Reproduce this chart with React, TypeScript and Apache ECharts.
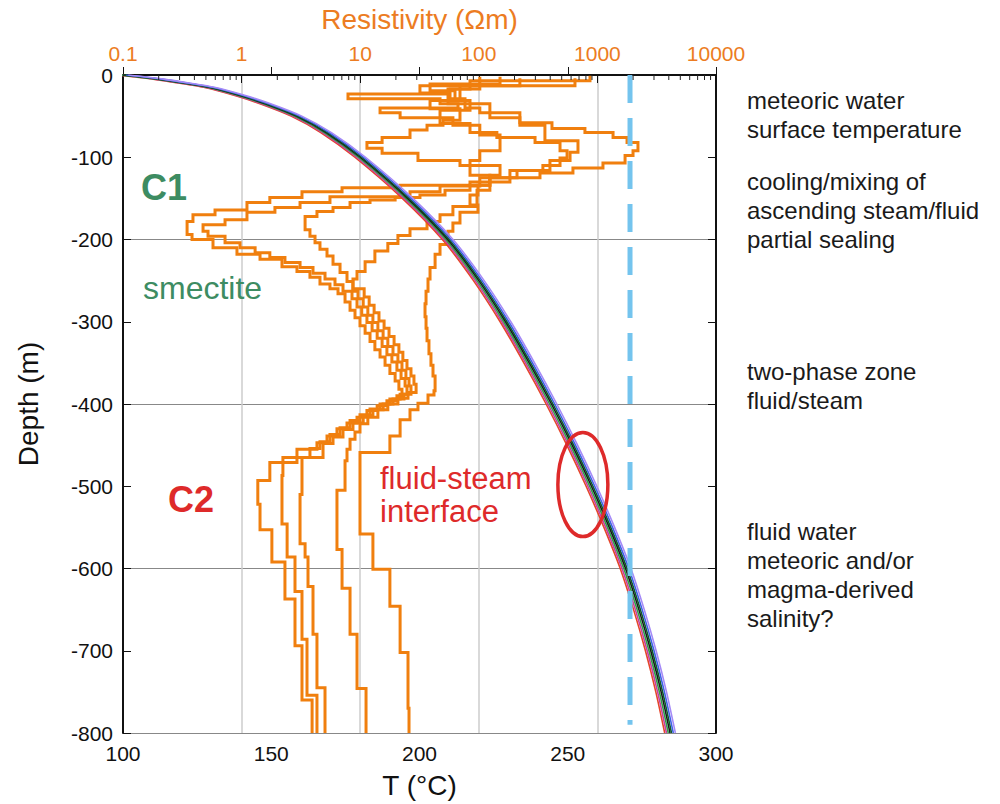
import React, { useEffect, useRef } from "react";
import * as echarts from "echarts";

const FONT = "'Liberation Sans', Arial, Helvetica, sans-serif";
const ORANGE = "#f07f0e";
const ORANGE_TEXT = "#ec7c22";
const GREEN = "#3d8c62";
const RED = "#de2a2a";

// Axes
const tempMin = 100;
const tempMax = 300;
const depthMin = -800;
const depthMax = 0;
const resMin = 0.1;
const resMax = 10000;
const resistivityMinorTicks = [
  0.2, 0.3, 0.4, 0.5, 0.6, 0.7, 0.8, 0.9,
  2, 3, 4, 5, 6, 7, 8, 9,
  20, 30, 40, 50, 60, 70, 80, 90,
  200, 300, 400, 500, 600, 700, 800, 900,
  2000, 3000, 4000, 5000, 6000, 7000, 8000, 9000,
];

// Boiling-point-with-depth temperature bundle (depth m, T °C)
const bpdDepth = [0, 5, 10, 15, 25, 35, 50, 70, 100, 150, 200, 250, 300, 350, 400, 450, 500, 550, 600, 650, 700, 750, 800];
const bpdTemp = [100, 112, 121, 129, 139.5, 148, 158.5, 168.5, 180, 196, 209.5, 220, 229, 237, 244.5, 251.5, 258, 264, 269.5, 274, 278, 281.5, 284.5];
const bundleOffsets = [-1.8, -1.2, -0.6, 0, 0.5, 1.1, 1.8];
const bundleColors = ["#e5452a", "#c63fa0", "#2e9e4a", "#1a1a1a", "#0f5a2a", "#3f62e6", "#a58af7"];

// Dashed reference line (°C)
const dashedRefT = 271;
const dashedRefBottom = -790;

// Ellipse "fluid-steam interface" centre (T, depth)
const ellipseCenter = [255.1, -498];

// Resistivity profiles: [resistivity Ωm, top depth of layer m]
const profile1 = [
  [866, 1], [84.3, 7], [57.2, 17], [76.5, 29], [102, 40], [222, 46], [414, 58], [785, 65], [1355, 70], [1778, 76],
  [2198, 82], [1997, 92], [1711, 98], [1114, 107], [622, 113], [328, 119], [183, 125], [84.3, 130], [21.7, 134], [7.03, 137],
  [3.23, 142], [1.73, 149], [1.11, 155], [0.597, 164], [0.389, 170], [0.347, 178], [0.382, 194], [0.574, 200], [0.914, 210], [1.43, 218],
  [2.19, 224], [2.93, 233], [3.77, 239], [4.58, 246], [5.56, 254], [6.5, 260], [7.45, 266], [8.21, 276], [9.04, 286], [9.96, 295],
  [11.0, 305], [12.1, 314], [13.3, 324], [14.7, 334], [16.2, 343], [17.8, 353], [19.7, 363], [21.2, 372], [22.5, 382], [20.4, 390],
  [16.8, 396], [13.9, 402], [11.4, 408], [9.4, 416], [7.74, 423], [6.37, 430], [5.25, 439], [4.32, 447], [2.93, 455], [1.73, 471],
  [1.37, 493], [1.43, 522], [1.8, 553], [2.32, 592], [2.82, 637], [3.23, 694], [3.93, 760],
];
const profile2 = [
  [647, 4], [31.9, 13], [55.0, 22], [124, 35], [222, 52], [361, 61], [686, 80], [588, 94], [398, 104], [183, 116],
  [102, 125], [47.1, 135], [26.3, 142], [5.56, 148], [3.11, 155], [1.91, 161], [1.11, 167], [0.725, 176], [0.473, 182], [0.521, 190],
  [0.725, 196], [0.97, 204], [1.3, 210], [1.73, 216], [2.32, 222], [3.11, 228], [4.0, 234], [5.05, 241], [6.13, 248], [7.16, 255],
  [8.53, 263], [9.4, 272], [10.3, 282], [11.4, 292], [12.6, 301], [13.9, 311], [15.3, 320], [16.8, 330], [18.5, 340], [20.4, 349],
  [22.1, 359], [23.9, 369], [24.8, 378], [21.7, 388], [17.8, 394], [14.7, 400], [12.1, 406], [9.96, 413], [8.21, 420], [6.76, 429],
  [5.56, 437], [4.58, 446], [3.77, 454], [2.23, 465], [2.19, 487], [2.42, 546], [2.82, 586], [3.23, 628], [3.56, 686], [4.32, 754],
];
const profile3 = [
  [151, 2], [38.8, 11], [63.0, 19], [84.3, 31], [47.1, 43], [84.3, 59], [142, 70], [298, 76], [484, 82], [555, 92],
  [484, 101], [347, 110], [210, 116], [124, 125], [84.3, 134], [51.9, 140], [31.9, 146], [19.7, 149], [12.1, 152], [8.21, 155],
  [5.9, 161], [4.32, 166], [3.43, 172], [3.77, 188], [4.16, 196], [4.58, 204], [5.25, 212], [5.9, 220], [6.76, 230], [7.74, 240],
  [8.69, 251], [9.58, 263], [10.6, 272], [11.6, 282], [12.8, 292], [14.1, 301], [15.6, 311], [17.1, 320], [18.9, 330], [20.8, 340],
  [22.5, 349], [24.3, 359], [25.8, 369], [26.8, 378], [23.4, 388], [18.9, 394], [15.6, 400], [12.8, 407], [10.6, 414], [8.69, 423],
  [7.16, 431], [5.9, 440], [4.86, 448], [3.23, 465], [3.11, 510], [3.43, 570], [3.63, 586], [4.0, 622], [4.32, 680], [5.05, 745],
];
const profile4 = [
  [102, 2], [55.0, 17], [7.89, 23], [47.1, 29], [66.8, 35], [14.7, 40], [21.7, 46], [60.5, 52], [102, 61], [151, 73],
  [102, 92], [84.3, 104], [124, 122], [96.6, 140], [60.5, 160], [47.1, 170], [36.6, 178], [26.3, 187], [20.8, 195], [17.1, 205],
  [13.3, 214], [11.0, 227], [9.4, 239], [8.69, 248], [10.8, 260], [11.9, 270], [13.1, 280], [14.4, 289], [15.9, 299], [17.5, 308],
  [19.3, 318], [21.2, 328], [22.9, 337], [24.8, 347], [26.8, 357], [28.4, 366], [29.6, 376], [25.3, 386], [20.8, 393], [17.1, 400],
  [14.1, 407], [11.6, 416], [9.96, 424], [9.04, 434], [8.21, 443], [7.74, 455], [7.45, 469], [6.37, 505], [7.03, 577], [8.21, 624],
  [9.4, 680], [11.2, 746],
];
const profile5 = [
  [222, 4], [69.4, 13], [38.8, 31], [69.4, 41], [49.9, 55], [36.6, 61], [26.3, 67], [15.3, 76], [11.4, 82], [15.3, 89],
  [30.7, 95], [69.4, 104], [151, 110], [124, 122], [98.4, 134], [84.3, 146], [98.4, 158], [69.4, 167], [60.5, 180], [55.0, 190],
  [47.1, 206], [42.8, 218], [38.8, 234], [37.3, 248], [35.9, 263], [35.2, 278], [35.9, 294], [36.6, 308], [38.0, 323], [39.5, 339],
  [41.1, 353], [42.8, 366], [41.9, 384], [37.3, 389], [30.7, 399], [26.3, 407], [21.7, 419], [17.8, 439], [9.96, 459], [12.8, 558],
  [17.8, 601], [21.7, 646], [25.3, 702], [25.8, 770],
];
const profiles = [profile1, profile2, profile3, profile4, profile5];

// Annotations
const rightNotes = [
  { lines: ["meteoric water", "surface temperature"], top: 86 },
  { lines: ["cooling/mixing of", "ascending steam/fluid", "partial sealing"], top: 167 },
  { lines: ["two-phase zone", "fluid/steam"], top: 357 },
  { lines: ["fluid water", "meteoric and/or", "magma-derived", "salinity?"], top: 517 },
];

function toStairs(layers: number[][]) {
  const pts: number[][] = [];
  layers.forEach(([r, top], i) => {
    const bottom = i + 1 < layers.length ? layers[i + 1][1] : 800;
    pts.push([r, -top], [r, -bottom]);
  });
  return pts;
}

function txt(text: string, x: number, y: number, size: number, color: string, extra: any = {}) {
  return {
    type: "text",
    x,
    y,
    z: 20,
    style: {
      text,
      fill: color,
      fontSize: size,
      fontFamily: FONT,
      align: "left",
      textAlign: "left",
      verticalAlign: "middle",
      textVerticalAlign: "middle",
      ...extra,
    },
  };
}

export default function App() {
  const ref = useRef<HTMLDivElement>(null);

  useEffect(() => {
    if (!ref.current) return;
    const chart = echarts.init(ref.current, undefined, { renderer: "svg" });

    const axisLabelBase = { fontFamily: FONT, fontSize: 21, color: "#111" };

    const series: any[] = [];
    profiles.forEach((p, i) => {
      series.push({
        type: "line",
        name: "profile" + (i + 1),
        xAxisIndex: 1,
        yAxisIndex: 0,
        data: toStairs(p),
        symbol: "none",
        silent: true,
        lineStyle: { color: ORANGE, width: 3, join: "miter" },
        z: 3,
      });
    });
    bundleOffsets.forEach((off, i) => {
      series.push({
        type: "line",
        xAxisIndex: 0,
        yAxisIndex: 0,
        data: bpdDepth.map((d, j) => [bpdTemp[j] + off, -d]),
        smooth: 0.25,
        symbol: "none",
        silent: true,
        lineStyle: { color: bundleColors[i], width: 1.6 },
        z: 5,
      });
    });
    series.push({
      type: "line",
      xAxisIndex: 0,
      yAxisIndex: 0,
      data: [[dashedRefT, 0], [dashedRefT, dashedRefBottom]],
      symbol: "none",
      silent: true,
      lineStyle: { color: "#74c4ee", width: 5, type: [28, 15] },
      z: 6,
    });
    series.push({
      type: "custom",
      xAxisIndex: 1,
      yAxisIndex: 0,
      clip: false,
      silent: true,
      z: 10,
      data: resistivityMinorTicks.map((v) => [v, 0]),
      renderItem: (params: any, api: any) => {
        const p = api.coord([api.value(0), api.value(1)]);
        return {
          type: "line",
          shape: { x1: p[0], y1: p[1], x2: p[0], y2: p[1] + 5 },
          style: { stroke: "#222", lineWidth: 1 },
        };
      },
    });

    const option: any = {
      animation: false,
      backgroundColor: "#ffffff",
      grid: { left: 123, top: 74, right: 284, bottom: 66, containLabel: false },
      xAxis: [
        {
          type: "value",
          position: "bottom",
          min: tempMin,
          max: tempMax,
          interval: 50,
          name: "T (°C)",
          nameLocation: "middle",
          nameGap: 38,
          nameTextStyle: { fontFamily: FONT, fontSize: 28, color: "#111" },
          axisLine: { show: true, lineStyle: { color: "#111", width: 2 } },
          axisTick: { show: true, inside: true, length: 8, lineStyle: { color: "#111", width: 1 } },
          axisLabel: { ...axisLabelBase, margin: 10, showMinLabel: true, showMaxLabel: true },
          splitLine: { show: false },
        },
        {
          type: "log",
          logBase: 10,
          position: "top",
          min: resMin,
          max: resMax,
          splitNumber: 5,
          name: "Resistivity (Ωm)",
          nameLocation: "middle",
          nameGap: 42,
          nameTextStyle: { fontFamily: FONT, fontSize: 28, color: ORANGE_TEXT },
          axisLine: { show: true, lineStyle: { color: "#111", width: 2 } },
          axisTick: { show: true, inside: true, length: 8, lineStyle: { color: "#111", width: 1 } },
          axisLabel: {
            fontFamily: FONT,
            fontSize: 21,
            color: ORANGE_TEXT,
            margin: 11,
            showMinLabel: true,
            showMaxLabel: true,
            formatter: (v: number) => (v < 1 ? v.toFixed(1) : String(Math.round(v))),
          },
          splitLine: { show: true, lineStyle: { color: "#cccccc", width: 1.5 } },
        },
      ],
      yAxis: [
        {
          type: "value",
          position: "left",
          min: depthMin,
          max: depthMax,
          interval: 100,
          name: "Depth (m)",
          nameLocation: "middle",
          nameGap: 81,
          nameRotate: 90,
          nameTextStyle: { fontFamily: FONT, fontSize: 28, color: "#111" },
          axisLine: { show: true, lineStyle: { color: "#111", width: 2 } },
          axisTick: { show: true, inside: true, length: 8, lineStyle: { color: "#111", width: 1 } },
          axisLabel: { ...axisLabelBase, margin: 10 },
          splitLine: { show: false },
        },
        {
          type: "value",
          position: "right",
          min: depthMin,
          max: depthMax,
          interval: 100,
          axisLine: { show: true, lineStyle: { color: "#111", width: 2 } },
          axisTick: { show: true, inside: true, length: 8, lineStyle: { color: "#111", width: 1 } },
          axisLabel: { show: false },
          splitLine: { show: false },
        },
        {
          type: "value",
          position: "left",
          min: depthMin,
          max: depthMax,
          interval: 200,
          axisLine: { show: false },
          axisTick: { show: false },
          axisLabel: { show: false },
          splitLine: { show: true, lineStyle: { color: "#888888", width: 1 } },
        },
      ],
      series,
    };

    chart.setOption(option);

    const c = chart.convertToPixel({ xAxisIndex: 0, yAxisIndex: 0 }, ellipseCenter) as number[];
    const graphics: any[] = [];
    graphics.push(txt("C1", 141, 187, 36, GREEN, { fontWeight: "bold" }));
    graphics.push(txt("smectite", 143, 288, 32, GREEN));
    graphics.push(txt("C2", 168, 499, 36, RED, { fontWeight: "bold" }));
    graphics.push(txt("fluid-steam", 380, 478, 31, RED));
    graphics.push(txt("interface", 380, 511, 31, RED));
    rightNotes.forEach((n) => {
      n.lines.forEach((line, k) => {
        graphics.push(txt(line, 747, n.top + 14 + k * 29, 24, "#1a1a1a"));
      });
    });
    graphics.push({
      type: "ellipse",
      z: 20,
      shape: { cx: c[0], cy: c[1], rx: 25, ry: 52 },
      style: { fill: "none", stroke: RED, lineWidth: 3.5 },
    });
    chart.setOption({ graphic: graphics });

    return () => chart.dispose();
  }, []);

  return (
    <div
      ref={ref}
      style={{ position: "absolute", left: 0, top: 0, width: 1000, height: 804, background: "#fff" }}
    />
  );
}
